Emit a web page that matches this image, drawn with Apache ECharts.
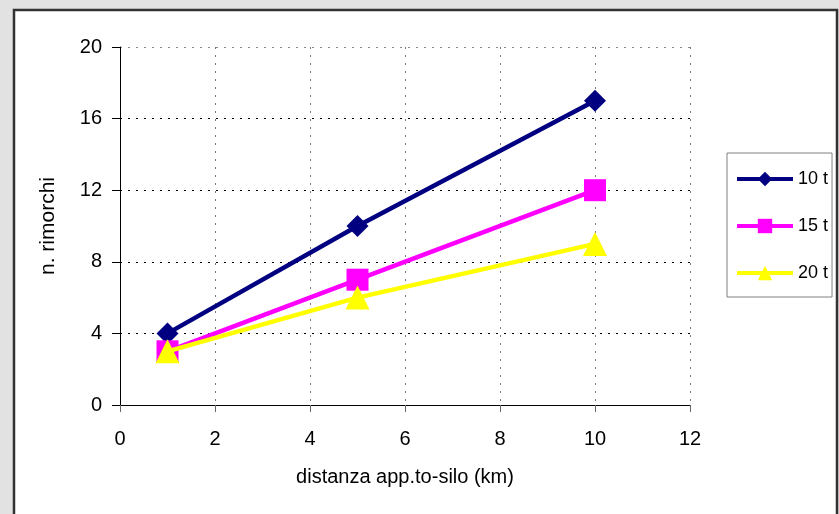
<!DOCTYPE html>
<html>
<head>
<meta charset="utf-8">
<script src="https://cdn.jsdelivr.net/npm/echarts@6/dist/echarts.min.js"></script>
<style>
html,body{margin:0;padding:0;background:#e2e2e2;}
#chart{width:839px;height:514px;}
</style>
</head>
<body>
<div id="chart"></div>
<script>
const xValues = [1, 5, 10];
const seriesNames = ['10 t', '15 t', '20 t'];
const values10t = [4, 10, 17];
const values15t = [3, 7, 12];
const values20t = [3, 6, 9];
const xTicks = [0, 2, 4, 6, 8, 10, 12];
const yTicks = [0, 4, 8, 12, 16, 20];

const font = '"Liberation Sans", Arial, sans-serif';
const chart = echarts.init(document.getElementById('chart'));

function pairs(vals) { return xValues.map((x, i) => [x, vals[i]]); }

const colors = ['#000080', '#FF00FF', '#FFFF00'];
const symbols = ['diamond', 'rect', 'triangle'];
const sizes = [22, 22, 24];
const allVals = [values10t, values15t, values20t];

chart.setOption({
  animation: false,
  textStyle: { fontFamily: font },
  graphic: [{
    type: 'rect', z: -100,
    shape: { x: 14, y: 10, width: 823, height: 520 },
    style: { fill: '#ffffff', stroke: '#333333', lineWidth: 2.5 }
  }],
  grid: { left: 120, right: 149, top: 47, bottom: 109 },
  xAxis: {
    type: 'value', min: xTicks[0], max: xTicks[xTicks.length - 1], interval: 2,
    name: 'distanza app.to-silo (km)', nameLocation: 'middle', nameGap: 62,
    nameMoveOverlap: false,
    nameTextStyle: { fontSize: 20, color: '#000', fontFamily: font },
    axisLine: { show: true, lineStyle: { color: '#000', width: 1 } },
    axisTick: { show: true, length: 7, lineStyle: { color: '#666' } },
    axisLabel: { fontSize: 20, color: '#000', margin: 24, fontFamily: font },
    splitLine: { show: true, lineStyle: { color: '#777', type: [2, 6], width: 1 } }
  },
  yAxis: {
    type: 'value', min: yTicks[0], max: yTicks[yTicks.length - 1], interval: 4,
    name: 'n. rimorchi', nameLocation: 'middle', nameGap: 61,
    nameMoveOverlap: false,
    nameTextStyle: { fontSize: 21, color: '#000', fontFamily: font },
    axisLine: { show: true, lineStyle: { color: '#000', width: 1 } },
    axisTick: { show: true, length: 8, lineStyle: { color: '#000' } },
    axisLabel: { fontSize: 20, color: '#000', margin: 18, fontFamily: font },
    splitLine: { show: true, lineStyle: { color: ['#000','#000','#000','#000','#000','#888'], type: [2, 6], width: 1 } }
  },
  legend: {
    orient: 'vertical', left: 727, top: 153,
    padding: [17, 4, 15, 8],
    itemWidth: 56, itemHeight: 18, itemGap: 29,
    borderColor: '#808080', borderWidth: 1,
    lineStyle: { width: 4 },
    textStyle: { fontSize: 18, color: '#000', fontFamily: font },
    data: seriesNames
  },
  series: seriesNames.map((n, i) => ({
    name: n, type: 'line', data: pairs(allVals[i]),
    symbol: symbols[i], symbolSize: sizes[i],
    lineStyle: { color: colors[i], width: 4.5 },
    itemStyle: { color: colors[i], borderWidth: 0 },
    z: 2 + i
  }))
});
</script>
</body>
</html>
